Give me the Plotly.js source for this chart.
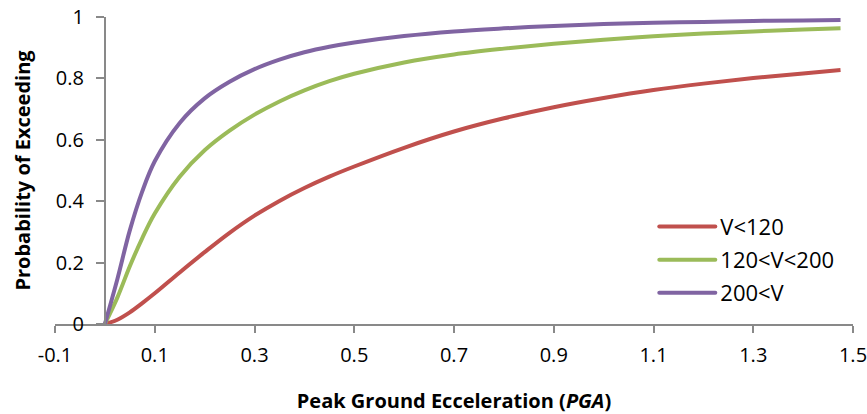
<!DOCTYPE html>
<html>
<head>
<meta charset="utf-8">
<script src="https://cdn.plot.ly/plotly-3.0.1.min.js"></script>
<style>html,body{margin:0;padding:0;background:#fff}#chart{width:867px;height:414px}</style>
</head>
<body>
<div id="chart"></div>
<script>
// Data
var seriesNames = ["V<120", "120<V<200", "200<V"];
var seriesColors = ["#C0504D", "#9BBB59", "#8064A2"];

var pga = [0, 0.025, 0.05, 0.075, 0.1, 0.15, 0.2, 0.25, 0.3, 0.35, 0.4, 0.45, 0.5, 0.6, 0.7, 0.8, 0.9, 1.0, 1.1, 1.2, 1.3, 1.4, 1.475];
var redY    = [0, 0.014, 0.038, 0.068, 0.100, 0.168, 0.234, 0.297, 0.353, 0.401, 0.443, 0.480, 0.513, 0.574, 0.627, 0.670, 0.706, 0.736, 0.762, 0.783, 0.801, 0.816, 0.827];
var greenY  = [0, 0.086, 0.188, 0.280, 0.360, 0.480, 0.566, 0.630, 0.682, 0.725, 0.761, 0.791, 0.815, 0.852, 0.878, 0.897, 0.913, 0.926, 0.937, 0.946, 0.953, 0.959, 0.963];
var purpleY = [0, 0.146, 0.305, 0.432, 0.530, 0.655, 0.735, 0.789, 0.830, 0.861, 0.885, 0.903, 0.917, 0.938, 0.953, 0.963, 0.971, 0.977, 0.981, 0.984, 0.987, 0.989, 0.990];

var xTickVals = [-0.1, 0.1, 0.3, 0.5, 0.7, 0.9, 1.1, 1.3, 1.5];
var xTickText = ["-0.1", "0.1", "0.3", "0.5", "0.7", "0.9", "1.1", "1.3", "1.5"];
var yTickVals = [0, 0.2, 0.4, 0.6, 0.8, 1];
var yTickText = ["0", "0.2", "0.4", "0.6", "0.8", "1"];

var ys = [redY, greenY, purpleY];
var traces = ys.map(function (y, i) {
  return {
    type: "scatter", mode: "lines", x: pga, y: y, name: seriesNames[i],
    legendgroup: "g" + i,
    line: { color: seriesColors[i], width: 4, shape: "spline", smoothing: 1, simplify: false },
    hoverinfo: "x+y"
  };
});

var axisGray = "#898989";
var layout = {
  width: 867, height: 414,
  margin: { l: 55, r: 14, t: 17, b: 90 },
  paper_bgcolor: "#fff", plot_bgcolor: "#fff",
  font: { family: "Open Sans, sans-serif", color: "#000", size: 20 },
  showlegend: true,
  legend: {
    x: 0.751, y: 0.385, xanchor: "left", yanchor: "top",
    bgcolor: "rgba(0,0,0,0)", font: { size: 22, color: "#000" },
    traceorder: "grouped", tracegroupgap: 1.5, itemwidth: 56
  },
  xaxis: {
    range: [-0.1, 1.5], tickvals: xTickVals, ticktext: xTickText,
    ticks: "outside", ticklen: 7, tickwidth: 1.5, tickcolor: axisGray,
    showline: true, linecolor: axisGray, linewidth: 2,
    showgrid: false, zeroline: false, ticklabeloverflow: "allow",
    tickfont: { size: 20 }, ticklabelstandoff: 5,
    title: { text: "<b>Peak Ground Ecceleration (<i>PGA</i>)</b>", font: { size: 20 }, standoff: 32 }
  },
  yaxis: {
    range: [0, 1], tickvals: yTickVals, ticktext: yTickText,
    anchor: "free", position: 0.0625,
    ticks: "outside", ticklen: 8, tickwidth: 1.5, tickcolor: axisGray,
    showline: true, linecolor: axisGray, linewidth: 2,
    showgrid: false, zeroline: false,
    tickfont: { size: 20 }, ticklabelstandoff: 8,
    title: { text: "<b>Probability of Exceeding</b>", font: { size: 20 }, standoff: 19 }
  }
};

var gdiv = document.getElementById("chart");
var LEGEND_LINE = "M5,0h56";
function fixLegendLines() {
  // keep the legend line samples as long as in the reference
  gdiv.querySelectorAll(".legend path.js-line").forEach(function (p) {
    if (p.getAttribute("d") !== LEGEND_LINE) p.setAttribute("d", LEGEND_LINE);
    p.style.strokeLinecap = "round";
  });
  gdiv.querySelectorAll(".legend [clip-path]").forEach(function (el) {
    el.removeAttribute("clip-path");
  });
}
var observer = new MutationObserver(fixLegendLines);
observer.observe(gdiv, { subtree: true, childList: true, attributes: true, attributeFilter: ["d", "clip-path"] });

Plotly.newPlot(gdiv, traces, layout, { displayModeBar: false }).then(function () {
  fixLegendLines();
  gdiv.on("plotly_afterplot", fixLegendLines);
});
</script>
</body>
</html>
